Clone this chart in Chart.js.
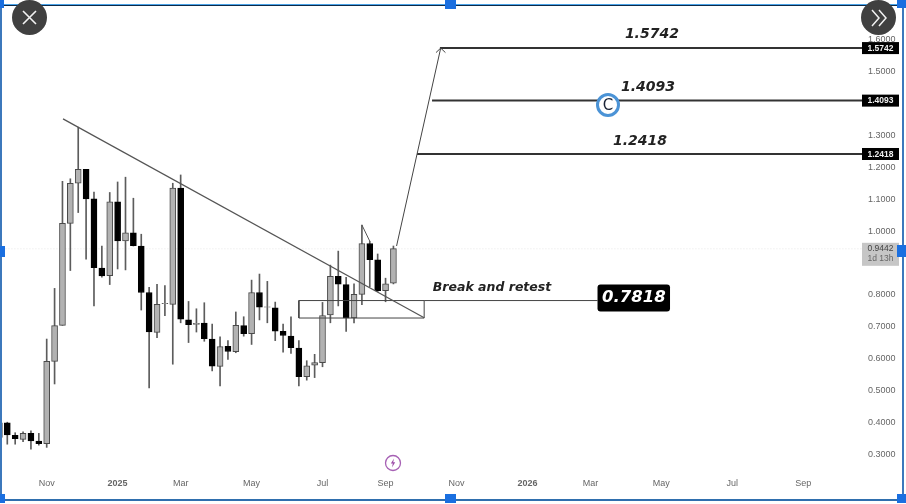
<!DOCTYPE html>
<html>
<head>
<meta charset="utf-8">
<title>Break and retest</title>
<script src="https://cdn.jsdelivr.net/npm/chart.js@4/dist/chart.umd.min.js"></script>
<style>
  html, body { margin: 0; padding: 0; background: #fff; overflow: hidden; }
  #wrap { position: relative; width: 906px; height: 504px; }
  canvas { display: block; }
  .ui { position: absolute; }
  .handle { position: absolute; background: #1a6fe0; }
  .round { position: absolute; width: 35px; height: 35px; border-radius: 50%; background: #404040; }
  .round svg { position: absolute; left: 0; top: 0; }
  #cMark {
    position: absolute; left: 596px; top: 93px; width: 18px; height: 18px;
    border: 3px solid #4b93d6; border-radius: 50%; background: #fff; color: #1a2438;
    font: 500 15px/18px "DejaVu Sans", sans-serif; text-align: center;
  }
</style>
</head>
<body>
<div id="wrap">
  <canvas id="chart" width="906" height="504"></canvas>

  <!-- selection frame around the screenshot -->
  <div class="ui" style="left:4px;top:4px;width:898px;height:1px;background:#4aa3e8"></div>
  <div class="ui" style="left:4px;top:5px;width:898px;height:1px;background:#0c2a4a"></div>
  <div class="ui" style="left:0;top:0;width:1.5px;height:500px;background:#3c78bc"></div>
  <div class="ui" style="left:902px;top:0;width:1.5px;height:500px;background:#3c78bc"></div>
  <div class="ui" style="left:0;top:499px;width:903px;height:1.5px;background:#2f6fae"></div>
  <div class="handle" style="left:0;top:0;width:4px;height:8px"></div>
  <div class="handle" style="left:445px;top:0;width:11px;height:9px"></div>
  <div class="handle" style="left:897px;top:0;width:9px;height:8px"></div>
  <div class="handle" style="left:0;top:246px;width:5px;height:11px"></div>
  <div class="handle" style="left:897px;top:245px;width:9px;height:12px"></div>
  <div class="handle" style="left:0;top:494px;width:5px;height:9px"></div>
  <div class="handle" style="left:445px;top:494px;width:11px;height:9px"></div>
  <div class="handle" style="left:897px;top:494px;width:9px;height:9px"></div>

  <div class="round" style="left:12px;top:0">
    <svg width="35" height="35"><path d="M11 11 L24 24 M24 11 L11 24" stroke="#f2f2f2" stroke-width="1.6" fill="none"/></svg>
  </div>
  <div class="round" style="left:861px;top:0">
    <svg width="35" height="35"><path d="M11 10 L18 18 L11 26 M18 10 L25 18 L18 26" stroke="#f2f2f2" stroke-width="1.5" fill="none"/></svg>
  </div>

  <div id="cMark">C</div>

  <svg class="ui" style="left:384px;top:454px" width="18" height="18">
    <circle cx="9" cy="9" r="7.5" fill="#fff" stroke="#a660b4" stroke-width="1.3"/>
    <path d="M10 4.5 L6.8 9.6 L8.8 9.6 L8 13.5 L11.2 8.3 L9.2 8.3 Z" fill="#9c4ca8"/>
  </svg>
</div>

<script>
/* ==========================
   Data (weekly candles)
   ========================== */
const candleIndex = [-1, 0, 1, 2, 3, 4, 5, 6, 7, 8, 9, 10, 11, 12, 13, 14, 15, 16, 17, 18, 19, 20, 21, 22, 23, 24,
  25, 26, 27, 28, 29, 30, 31, 32, 33, 34, 35, 36, 37, 38, 39, 40, 41, 42, 43, 44, 45, 46, 47, 48, 49];
const opens = [.352, .398, .359, .346, .365, .341, .333, .591, .704, 1.024, 1.150, 1.194, 1.101, .884, .860, 1.092, .969, .994, .953, .807, .682, .772, .770, 1.135, .721, .707,
  .711, .661, .575, .638, .621, .703, .678, .807, .761, .759, .685, .670, .633, .543, .579, .587, .737, .858, .832, .727, .801, .961, .910, .813, .836];
const highs = [.405, .400, .367, .370, .373, .365, .661, .820, 1.156, 1.164, 1.326, 1.194, 1.122, .953, 1.121, 1.154, 1.169, 1.103, .990, .823, .833, .829, 1.150, 1.176, .779, .756,
  .775, .708, .668, .656, .746, .731, .846, .865, .842, .777, .708, .731, .656, .593, .613, .776, .893, .937, .855, .834, 1.019, .968, .928, .852, .953];
const lows = [.345, .331, .331, .339, .315, .328, .321, .520, .704, .876, 1.058, .912, .765, .855, .832, .881, .878, .953, .752, .508, .665, .734, .582, .712, .650, .683,
  .654, .561, .514, .597, .618, .670, .644, .721, .712, .656, .620, .616, .514, .532, .540, .574, .712, .765, .685, .712, .769, .825, .810, .778, .834];
const closes = [.398, .360, .348, .365, .341, .333, .591, .703, 1.024, 1.150, 1.194, 1.101, .885, .859, 1.092, .969, .994, .954, .807, .683, .770, .773, 1.135, .723, .706, .710,
  .662, .576, .637, .622, .704, .678, .807, .761, .762, .686, .672, .634, .543, .577, .587, .735, .858, .833, .727, .801, .961, .910, .813, .834, .945];

const yTicks = [.3, .4, .5, .6, .7, .8, .9, 1, 1.1, 1.2, 1.3, 1.4, 1.5, 1.6];
const xTicks = [5, 14, 22, 31, 40, 48, 57, 66, 74, 83, 92, 101];
const xLabels = ["Nov", "2025", "Mar", "May", "Jul", "Sep", "Nov", "2026", "Mar", "May", "Jul", "Sep"];

const lastPrice = 0.9442;
const lastPriceLabel = "1d 13h";
const targets = [1.5742, 1.4093, 1.2418];
const targetStart = [54.9, 53.9, 52];
const targetTextX = [81.8, 81.3, 80.3];
const targetTextY = [1.616, 1.45, 1.283];

const retestPrice = 0.7818;
const retestBoxLow = 0.727;
const retestBoxX = [37, 52.9];
const retestTagX = [74.9, 84.1];
const retestText = "Break and retest";

const trendX = [7.07, 52.9];
const trendY = [1.352, 0.728];
const arrowX = [49.4, 52, 55];
const arrowY = [0.953, 1.2418, 1.5742];
const arrowHeadX = [54.4, 55, 55.6];
const arrowHeadY = [1.56, 1.5742, 1.56];
const waveX = [45, 46];
const waveY = [1.019, 0.968];

/* ==========================
   Helpers
   ========================== */
const $ = (id) => document.getElementById(id);
const pts = (xs, ys) => xs.map((x, i) => ({ x, y: ys[i] }));
const isUp = (i) => closes[i] >= opens[i];

const lineSet = (data, color, width, extra) => ({
  type: "line",
  data,
  borderColor: color,
  borderWidth: width,
  pointRadius: 0,
  tension: 0,
  fill: false,
  order: 1,
  ...extra
});

/* ==========================
   Texts and price tags
   ========================== */
const tagsPlugin = {
  id: "tags",
  afterDraw(chart) {
    const { ctx, scales } = chart;
    const X = scales.x, Y = scales.y;
    ctx.save();

    // target captions
    ctx.fillStyle = "#222";
    ctx.textAlign = "center";
    ctx.textBaseline = "middle";
    ctx.font = 'italic bold 14px "DejaVu Sans"';
    targets.forEach((t, i) => {
      ctx.fillText(t.toFixed(4), X.getPixelForValue(targetTextX[i]), Y.getPixelForValue(targetTextY[i]));
    });

    // right axis tags
    targets.forEach((t) => {
      const y = Y.getPixelForValue(t);
      ctx.fillStyle = "#000";
      ctx.fillRect(862, y - 6, 37, 12);
      ctx.fillStyle = "#f0f0f0";
      ctx.font = '600 8.5px "Liberation Sans"';
      ctx.fillText(t.toFixed(4), 880.5, y + 0.5);
    });

    // last price tag
    const ly = Y.getPixelForValue(lastPrice);
    ctx.fillStyle = "#c6c6c6";
    ctx.fillRect(862, ly - 6, 37, 23);
    ctx.fillStyle = "#444";
    ctx.font = '8.5px "Liberation Sans"';
    ctx.fillText(lastPrice.toFixed(4), 880.5, ly);
    ctx.fillStyle = "#666";
    ctx.fillText(lastPriceLabel, 880.5, ly + 10);

    // break and retest
    const ry = Y.getPixelForValue(retestPrice);
    const x0 = X.getPixelForValue(retestTagX[0]);
    const x1 = X.getPixelForValue(retestTagX[1]);
    ctx.fillStyle = "#000";
    ctx.beginPath();
    ctx.roundRect(x0, ry - 16, x1 - x0, 27, 3);
    ctx.fill();
    ctx.fillStyle = "#fff";
    ctx.font = 'italic bold 16.5px "DejaVu Sans"';
    ctx.fillText(retestPrice.toFixed(4), (x0 + x1) / 2, ry - 2.5);

    ctx.fillStyle = "#222";
    ctx.textAlign = "left";
    ctx.font = 'italic 600 12.5px "DejaVu Sans"';
    ctx.fillText(retestText, X.getPixelForValue(54), ry - 13);

    ctx.restore();
  }
};

/* ==========================
   Chart
   ========================== */
new Chart($("chart"), {
  data: {
    datasets: [
      lineSet(pts([-1, 110], [lastPrice, lastPrice]), "#e6e6e6", 1, { borderDash: [1, 2], order: 4 }),

      /* candles */
      {
        type: "bar",
        data: candleIndex.map((x, i) => ({ x, y: [Math.min(opens[i], closes[i]), Math.max(opens[i], closes[i])] })),
        backgroundColor: candleIndex.map((_, i) => (isUp(i) ? "#b2b2b2" : "#000")),
        borderColor: candleIndex.map((_, i) => (isUp(i) ? "#4a4a4a" : "#000")),
        borderWidth: 1,
        borderSkipped: false,
        barThickness: 6,
        grouped: false,
        order: 2
      },
      {
        type: "bar",
        data: candleIndex.map((x, i) => ({ x, y: [lows[i], highs[i]] })),
        backgroundColor: "#5c5c5c",
        barThickness: 1,
        grouped: false,
        order: 3
      },

      /* drawings */
      lineSet(pts(trendX, trendY), "#555", 1.2),
      lineSet(pts([retestBoxX[0], retestBoxX[0], retestBoxX[1], retestBoxX[1], retestBoxX[0]],
        [retestPrice, retestBoxLow, retestBoxLow, retestPrice, retestPrice]), "#444", 1),
      lineSet(pts([retestBoxX[1], retestTagX[0]], [retestPrice, retestPrice]), "#444", 1),
      lineSet(pts(arrowX, arrowY), "#444", 1),
      lineSet(pts(arrowHeadX, arrowHeadY), "#444", 1),
      lineSet(pts(waveX, waveY), "#555", 1),
      ...targets.map((t, i) => lineSet(pts([targetStart[i], 110], [t, t]), "#333", 2))
    ]
  },
  options: {
    responsive: false,
    animation: false,
    layout: { padding: { top: 8 } },
    plugins: { legend: { display: false }, tooltip: { enabled: false } },
    scales: {
      x: {
        type: "linear",
        offset: false,
        min: -0.926,
        max: 108.97,
        grid: { display: false, offset: false, drawTicks: false },
        border: { display: false },
        afterBuildTicks: (s) => { s.ticks = xTicks.map((value) => ({ value })); },
        afterFit: (s) => { s.height = 34; },
        ticks: {
          autoSkip: false,
          maxRotation: 0,
          padding: 8,
          color: "#666",
          font: (c) => ({
            family: "Liberation Sans",
            size: 9,
            weight: /^\d/.test(c.tick ? xLabels[xTicks.indexOf(c.tick.value)] : "") ? "bold" : "normal"
          }),
          callback: (v) => xLabels[xTicks.indexOf(v)]
        }
      },
      y: {
        type: "linear",
        position: "right",
        min: 0.25,
        max: 1.7,
        grid: { display: false, drawTicks: false },
        border: { display: false },
        afterBuildTicks: (s) => { s.ticks = yTicks.map((value) => ({ value })); },
        afterFit: (s) => { s.width = 40; },
        ticks: {
          autoSkip: false,
          padding: 2,
          color: "#666",
          font: { family: "Liberation Sans", size: 9 },
          callback: (v) => v.toFixed(4)
        }
      }
    }
  },
  plugins: [tagsPlugin]
});
</script>
</body>
</html>
